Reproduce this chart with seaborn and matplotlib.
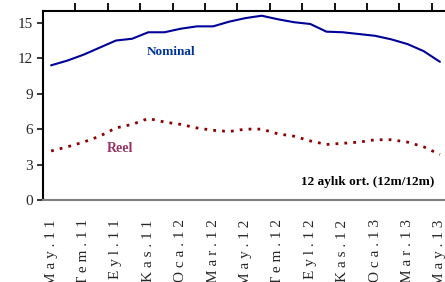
import numpy as np
import pandas as pd
import matplotlib
matplotlib.use("Agg")
import matplotlib.pyplot as plt
import seaborn as sns

# monthly series, May.11 - May.13
months = ["May.11", "Haz.11", "Tem.11", "Ağu.11", "Eyl.11", "Eki.11", "Kas.11", "Ara.11",
          "Oca.12", "Şub.12", "Mar.12", "Nis.12", "May.12", "Haz.12", "Tem.12", "Ağu.12",
          "Eyl.12", "Eki.12", "Kas.12", "Ara.12", "Oca.13", "Şub.13", "Mar.13", "Nis.13", "May.13"]
nominal = [11.4, 11.8, 12.3, 12.9, 13.5, 13.65, 14.2, 14.2, 14.5, 14.7, 14.7, 15.1, 15.4,
           15.6, 15.3, 15.05, 14.9, 14.25, 14.2, 14.05, 13.9, 13.6, 13.2, 12.6, 11.7]
reel = [4.15, 4.5, 4.9, 5.4, 6.1, 6.4, 6.9, 6.6, 6.4, 6.1, 5.9, 5.8, 6.0,
        6.0, 5.6, 5.4, 5.0, 4.7, 4.8, 4.9, 5.1, 5.1, 4.9, 4.5, 3.85]
yticks = [0, 3, 6, 9, 12, 15]

sns.set_style("white")
plt.rcParams['font.family'] = ['Liberation Serif', 'DejaVu Serif']

df = pd.DataFrame({"idx": np.arange(len(months)), "Nominal": nominal, "Reel": reel})

fig = plt.figure(figsize=(4.45, 2.82), dpi=100)
ax = fig.add_axes([43 / 445, 82 / 282, 405 / 445, 189 / 282])

sns.lineplot(data=df, x="idx", y="Nominal", ax=ax, color="#000099", linewidth=1.5)
sns.lineplot(data=df, x="idx", y="Reel", ax=ax, color="#8B0000", linewidth=2,
             linestyle=(0, (1, 2.2)))

ax.set_xlim(-0.5, len(months) - 0.5)
ax.set_ylim(0, 16)
ax.set_yticks(yticks)
ax.set_yticklabels([str(v) for v in yticks], fontsize=11)

label_idx = list(range(0, len(months), 2))
ax.set_xticks(label_idx)
ax.set_xticklabels([" ".join(months[i]) for i in label_idx], rotation=90,
                   fontsize=11, va="top")
ax.set_xticks(np.arange(1.5, len(months), 2), minor=True)
ax.tick_params(axis="x", which="major", length=0, pad=14, bottom=True)
ax.tick_params(axis="x", which="minor", top=True, bottom=False, direction="out",
               length=5.5, width=1.3, color="black")
ax.tick_params(axis="y", left=True, direction="out", length=4, width=1.3, pad=3)
ax.set_xlabel("")
ax.set_ylabel("")

ax.spines["left"].set_color("black")
ax.spines["left"].set_linewidth(1.5)
ax.spines["top"].set_color("black")
ax.spines["top"].set_linewidth(1.5)
ax.spines["bottom"].set_color("#808080")
ax.spines["bottom"].set_linewidth(1.5)
ax.spines["right"].set_visible(False)

ax.text(5.9, 12.55, "Nominal", color="#003399", fontsize=9.5, fontweight="bold", va="center")
ax.text(3.45, 4.4, "Reel", color="#993366", fontsize=10, fontweight="bold", va="center")
ax.text(15.4, 1.5, "12 aylık ort. (12m/12m)", color="black", fontsize=9.5,
        fontweight="bold", va="center")

fig.savefig("out.png", dpi=100)
